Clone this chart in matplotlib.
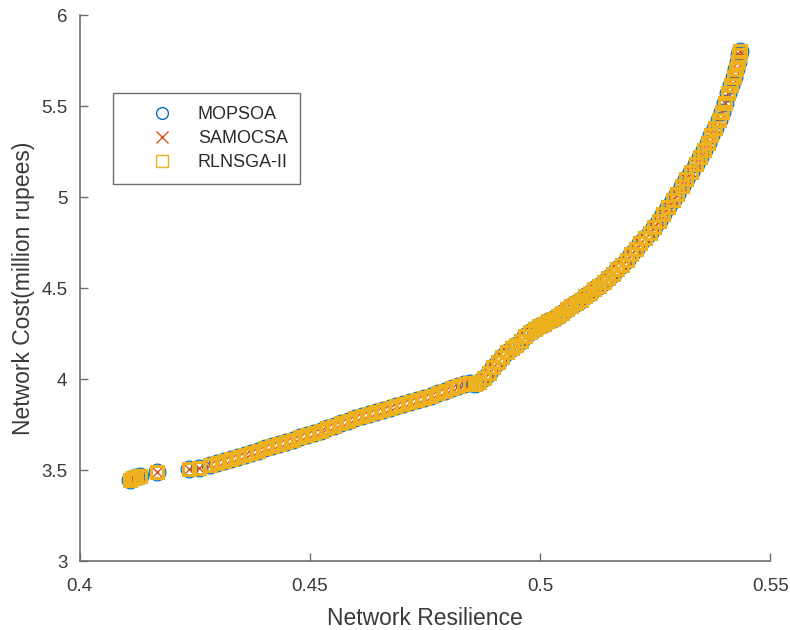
import matplotlib
matplotlib.use("Agg")
import matplotlib.pyplot as plt

# Pareto front shared by the three optimisers (resilience, cost in million rupees)
front_resilience = [
    0.4108, 0.4115, 0.4122, 0.4130, 0.4168, 0.4238, 0.4260,
    0.4283, 0.4298, 0.4313, 0.4328, 0.4343, 0.4358, 0.4373, 0.4388, 0.4403, 0.4418,
    0.4433, 0.4448, 0.4463, 0.4478, 0.4493, 0.4508, 0.4523, 0.4538, 0.4553, 0.4568,
    0.4583, 0.4598, 0.4613, 0.4628, 0.4643, 0.4658, 0.4673, 0.4688, 0.4703, 0.4718,
    0.4733, 0.4748, 0.4763, 0.4778, 0.4793, 0.4808, 0.4822, 0.4835, 0.4848, 0.4858,
    0.4868,
    0.4878, 0.4888, 0.4898, 0.4908, 0.4918, 0.4928, 0.4938, 0.4948, 0.4958, 0.4968,
    0.4978, 0.4988, 0.4998, 0.5008, 0.5018, 0.5028, 0.5038, 0.5048, 0.5058, 0.5068,
    0.5078, 0.5088, 0.5098, 0.5108, 0.5118, 0.5128, 0.5138, 0.5148, 0.5158, 0.5168,
    0.5178, 0.5188, 0.5198, 0.5208, 0.5218, 0.5228, 0.5238, 0.5248, 0.5258, 0.5268,
    0.5278, 0.5288, 0.5298, 0.5308, 0.5318, 0.5328, 0.5338, 0.5348, 0.5356, 0.5364,
    0.5372, 0.5380, 0.5388, 0.5395, 0.5402, 0.5409, 0.5415, 0.5421, 0.5426, 0.5430,
    0.5433, 0.5435,
]
front_cost = [
    3.445, 3.455, 3.462, 3.470, 3.492, 3.505, 3.514,
    3.527, 3.538, 3.550, 3.561, 3.572, 3.583, 3.595, 3.608, 3.620, 3.632,
    3.645, 3.657, 3.669, 3.681, 3.693, 3.706, 3.718, 3.731, 3.744, 3.759,
    3.772, 3.785, 3.798, 3.810, 3.821, 3.831, 3.841, 3.851, 3.862, 3.873,
    3.885, 3.897, 3.909, 3.922, 3.936, 3.950, 3.963, 3.972, 3.978, 3.976,
    3.985,
    4.005, 4.035, 4.065, 4.095, 4.125, 4.150, 4.170, 4.190, 4.212, 4.235,
    4.257, 4.277, 4.292, 4.305, 4.318, 4.332, 4.347, 4.362, 4.385, 4.400,
    4.418, 4.435, 4.455, 4.475, 4.495, 4.512, 4.535, 4.557, 4.580, 4.603,
    4.630, 4.657, 4.688, 4.718, 4.748, 4.775, 4.805, 4.835, 4.868, 4.905,
    4.945, 4.985, 5.020, 5.060, 5.100, 5.140, 5.180, 5.220, 5.260, 5.300,
    5.340, 5.380, 5.425, 5.470, 5.520, 5.570, 5.615, 5.660, 5.705, 5.745,
    5.780, 5.805,
]

algorithms = ["MOPSOA", "SAMOCSA", "RLNSGA-II"]
x_ticks = [0.4, 0.45, 0.5, 0.55]
x_tick_labels = ["0.4", "0.45", "0.5", "0.55"]
y_ticks = [3, 3.5, 4, 4.5, 5, 5.5, 6]
y_tick_labels = ["3", "3.5", "4", "4.5", "5", "5.5", "6"]

plt.rcParams["font.family"] = ["Liberation Sans", "DejaVu Sans"]

fig = plt.figure(figsize=(7.9, 6.3), dpi=100)
ax = fig.add_axes([0.101, 0.109, 0.874, 0.867])

styles = [
    dict(marker="o", markersize=12, markerfacecolor="none",
         markeredgecolor="#0072BD", markeredgewidth=0.9),
    dict(marker="x", markersize=8, markeredgecolor="#D95319",
         markeredgewidth=1.0),
    dict(marker="s", markersize=9, markerfacecolor="none",
         markeredgecolor="#EDB120", markeredgewidth=2.2),
]

for name, st in zip(algorithms, styles):
    ax.plot(front_resilience, front_cost, linestyle="none", label=name, **st)

ax.set_xlim(0.4, 0.55)
ax.set_ylim(3, 6)
ax.set_xticks(x_ticks)
ax.set_xticklabels(x_tick_labels)
ax.set_yticks(y_ticks)
ax.set_yticklabels(y_tick_labels)

for side in ("top", "right"):
    ax.spines[side].set_visible(False)
for side in ("left", "bottom"):
    ax.spines[side].set_color("#6e6e6e")
    ax.spines[side].set_linewidth(1.2)

ax.tick_params(direction="in", length=5.5, width=1.0, color="#6e6e6e",
               labelsize=13.5, labelcolor="#3a3a3a")
ax.tick_params(axis="x", pad=12)
ax.tick_params(axis="y", pad=9)

ax.set_xlabel("Network Resilience", fontsize=16.5, color="#3a3a3a", labelpad=9)
ax.set_ylabel("Network Cost(million rupees)", fontsize=16.5, color="#3a3a3a",
              labelpad=4)

leg_handles = []
for st in styles:
    s = dict(st)
    s["markeredgewidth"] = 1.0
    s["markersize"] = 8.5
    h, = ax.plot([], [], linestyle="none", **s)
    leg_handles.append(h)

leg = ax.legend(leg_handles, algorithms, loc="upper left",
                bbox_to_anchor=(0.048, 0.857), fontsize=13, frameon=True,
                fancybox=False, edgecolor="#4a4a4a", borderpad=0.7,
                handlelength=4.0, handletextpad=0.0, labelspacing=0.4,
                borderaxespad=0)
leg.get_frame().set_linewidth(1.0)
for t in leg.get_texts():
    t.set_color("#2a2a2a")

fig.savefig("out.png", dpi=100, facecolor="white")
